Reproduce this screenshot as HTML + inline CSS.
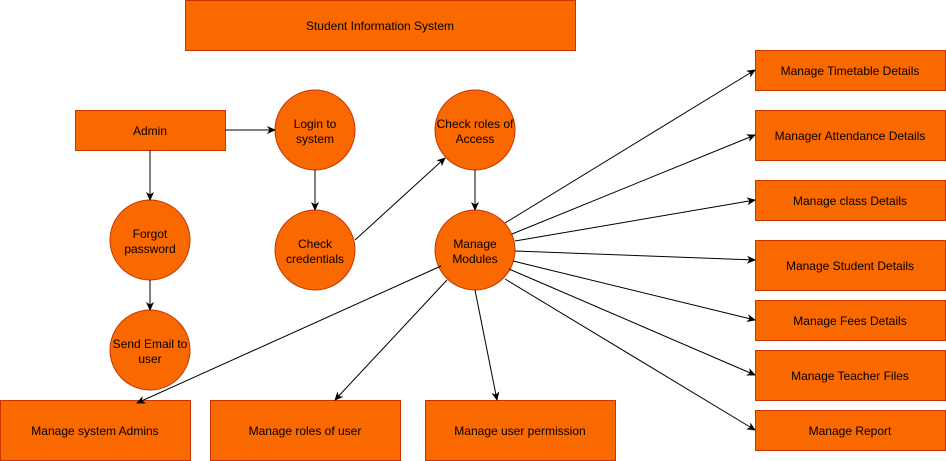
<!DOCTYPE html>
<html><head><style>
html,body{margin:0;padding:0;background:#fff;}
svg{display:block;}
text{font-family:"Liberation Sans",Arial,sans-serif;font-size:12px;fill:#000;text-anchor:middle;}
.b{fill:#fa6800;stroke:#c73500;stroke-width:1;}
.l{stroke:#000;stroke-width:1;fill:none;marker-end:url(#a);}
</style></head><body>
<svg width="946" height="461" viewBox="0 0 946 461">
<defs><marker id="a" markerWidth="10" markerHeight="10" refX="8" refY="5" orient="auto" markerUnits="userSpaceOnUse"><path d="M0,1 L9,5 L0,9 L2.5,5 Z" fill="#000"/></marker></defs>
<rect class="b" x="185.5" y="0.5" width="390" height="50"/>
<text x="380" y="30">Student Information System</text>
<rect class="b" x="75.5" y="110.5" width="150" height="40"/>
<text x="150" y="135">Admin</text>
<circle class="b" cx="315" cy="130" r="40"/><text x="315" y="128">Login to</text><text x="315" y="143">system</text>
<circle class="b" cx="475" cy="130" r="40"/><text x="475" y="128">Check roles of</text><text x="475" y="143">Access</text>
<circle class="b" cx="150" cy="240" r="40"/><text x="150" y="238">Forgot</text><text x="150" y="253">password</text>
<circle class="b" cx="315" cy="250" r="40"/><text x="315" y="248">Check</text><text x="315" y="263">credentials</text>
<circle class="b" cx="475" cy="250" r="40"/><text x="475" y="248">Manage</text><text x="475" y="263">Modules</text>
<circle class="b" cx="150" cy="350" r="40"/><text x="150" y="348">Send Email to</text><text x="150" y="363">user</text>
<rect class="b" x="0.5" y="400.5" width="190" height="60"/><text x="95" y="435">Manage system Admins</text>
<rect class="b" x="210.5" y="400.5" width="190" height="60"/><text x="305" y="435">Manage roles of user</text>
<rect class="b" x="425.5" y="400.5" width="190" height="60"/><text x="520" y="435">Manage user permission</text>
<rect class="b" x="755.5" y="50.5" width="190" height="40"/><text x="850" y="75">Manage Timetable Details</text>
<rect class="b" x="755.5" y="110.5" width="190" height="50"/><text x="850" y="140">Manager Attendance Details</text>
<rect class="b" x="755.5" y="180.5" width="190" height="40"/><text x="850" y="205">Manage class Details</text>
<rect class="b" x="755.5" y="240.5" width="190" height="50"/><text x="850" y="270">Manage Student Details</text>
<rect class="b" x="755.5" y="300.5" width="190" height="40"/><text x="850" y="325">Manage Fees Details</text>
<rect class="b" x="755.5" y="350.5" width="190" height="50"/><text x="850" y="380">Manage Teacher Files</text>
<rect class="b" x="755.5" y="410.5" width="190" height="40"/><text x="850" y="435">Manage Report</text>
<line class="l" x1="225" y1="130" x2="275" y2="130"/>
<line class="l" x1="150" y1="150" x2="150" y2="200"/>
<line class="l" x1="150" y1="280" x2="150" y2="310"/>
<line class="l" x1="315" y1="170" x2="315" y2="210"/>
<line class="l" x1="355" y1="240" x2="445" y2="158"/>
<line class="l" x1="475" y1="170" x2="475" y2="210"/>
<line class="l" x1="441" y1="266" x2="137" y2="403"/>
<line class="l" x1="447" y1="280" x2="335" y2="400"/>
<line class="l" x1="475" y1="290" x2="497" y2="400"/>
<line class="l" x1="505" y1="223" x2="755" y2="70"/>
<line class="l" x1="512" y1="234" x2="755" y2="135"/>
<line class="l" x1="515" y1="241" x2="755" y2="200"/>
<line class="l" x1="515" y1="251" x2="755" y2="260"/>
<line class="l" x1="513" y1="261" x2="755" y2="320"/>
<line class="l" x1="509" y1="269" x2="755" y2="375"/>
<line class="l" x1="505" y1="279" x2="755" y2="430"/>
</svg>
</body></html>
